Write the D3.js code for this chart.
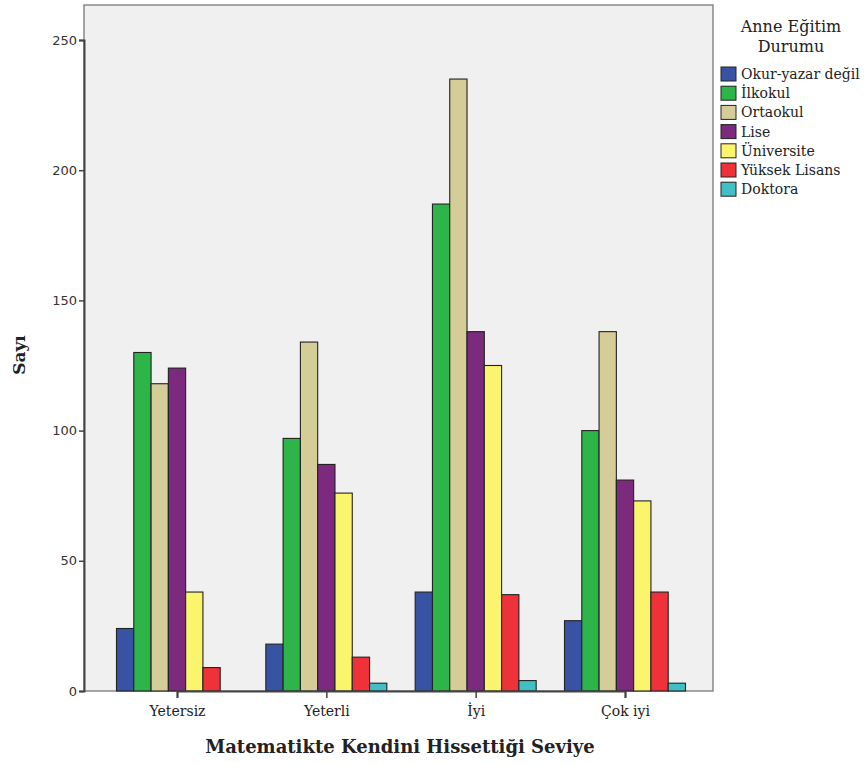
<!DOCTYPE html>
<html><head><meta charset="utf-8">
<script src="https://cdn.jsdelivr.net/npm/d3@7/dist/d3.min.js"></script>
<style>body{margin:0;background:#fff}</style>
</head><body><svg id="c" width="864" height="765"></svg>
<script>
const categories = ["Yetersiz", "Yeterli", "İyi", "Çok iyi"];
const seriesNames = ["Okur-yazar değil", "İlkokul", "Ortaokul", "Lise", "Üniversite", "Yüksek Lisans", "Doktora"];
const okurYazar = [24, 18, 38, 27];
const ilkokul = [130, 97, 187, 100];
const ortaokul = [118, 134, 235, 138];
const lise = [124, 87, 138, 81];
const universite = [38, 76, 125, 73];
const yuksekLisans = [9, 13, 37, 38];
const doktora = [0, 3, 4, 3];
const seriesValues = [okurYazar, ilkokul, ortaokul, lise, universite, yuksekLisans, doktora];
const colors = ["#3953a4", "#2eb54a", "#d4cd98", "#7b2a7d", "#fbf56e", "#ef3239", "#42bfc4"];
const yTicks = [0, 50, 100, 150, 200, 250];

const SERIF = "'DejaVu Serif', serif";
const svg = d3.select("#c");
const L = 84, R = 713, T = 5, B = 691;
const y = d3.scaleLinear().domain([0, 250]).range([B, B - 250 * 2.604]);
const x0 = d3.scalePoint().domain(categories).range([177, 625]);
const gw = 121;
const x1 = d3.scaleBand().domain(seriesNames).range([-gw / 2, gw / 2]);

svg.append("rect").attr("x", L).attr("y", T).attr("width", R - L).attr("height", B - T)
  .attr("fill", "#f0f0f0").attr("stroke", "#777").attr("stroke-width", 1.3);

const g = svg.append("g");
categories.forEach((c, ci) => {
  seriesNames.forEach((s, si) => {
    const v = seriesValues[si][ci];
    g.append("rect")
      .attr("x", x0(c) + x1(s))
      .attr("y", y(v))
      .attr("width", x1.bandwidth())
      .attr("height", B - y(v))
      .attr("fill", colors[si])
      .attr("stroke", "#222").attr("stroke-width", 1.1);
  });
});

const yAx = svg.append("g").attr("transform", `translate(${L},0)`)
  .call(d3.axisLeft(y).tickValues(yTicks).tickSize(5).tickPadding(2));
yAx.select(".domain").attr("stroke", "#444").attr("stroke-width", 2);
yAx.selectAll(".tick line").attr("stroke", "#444").attr("stroke-width", 1.5);
yAx.selectAll("text").style("font-family", "'DejaVu Sans', sans-serif").style("font-size", "13px").attr("fill", "#333");

const xAx = svg.append("g").attr("transform", `translate(0,${B})`)
  .call(d3.axisBottom(x0).tickSize(7).tickPadding(8));
xAx.select(".domain").attr("stroke", "#444").attr("stroke-width", 2);
xAx.selectAll(".tick line").attr("stroke", "#444").attr("stroke-width", 1.5);
xAx.selectAll("text").style("font-family", SERIF).style("font-size", "14px").attr("fill", "#222");

svg.append("text").attr("x", 400).attr("y", 753).attr("text-anchor", "middle")
  .style("font-family", SERIF).style("font-weight", "bold").style("font-size", "18px")
  .attr("fill", "#222").text("Matematikte Kendini Hissettiği Seviye");
svg.append("text").attr("transform", "translate(25,355) rotate(-90)").attr("text-anchor", "middle")
  .style("font-family", SERIF).style("font-weight", "bold").style("font-size", "17px")
  .attr("fill", "#222").text("Sayı");

const lg = svg.append("g");
lg.append("text").attr("x", 791).attr("y", 32).attr("text-anchor", "middle")
  .style("font-family", SERIF).style("font-size", "16px").attr("fill", "#222").text("Anne Eğitim");
lg.append("text").attr("x", 791).attr("y", 52).attr("text-anchor", "middle")
  .style("font-family", SERIF).style("font-size", "16px").attr("fill", "#222").text("Durumu");
seriesNames.forEach((s, i) => {
  const cy = 74 + i * 19.2;
  lg.append("rect").attr("x", 721).attr("y", cy - 7).attr("width", 15).attr("height", 14)
    .attr("fill", colors[i]).attr("stroke", "#222").attr("stroke-width", 1);
  lg.append("text").attr("x", 741).attr("y", cy + 5)
    .style("font-family", SERIF).style("font-size", "14px").attr("fill", "#222").text(s);
});
</script></body></html>
